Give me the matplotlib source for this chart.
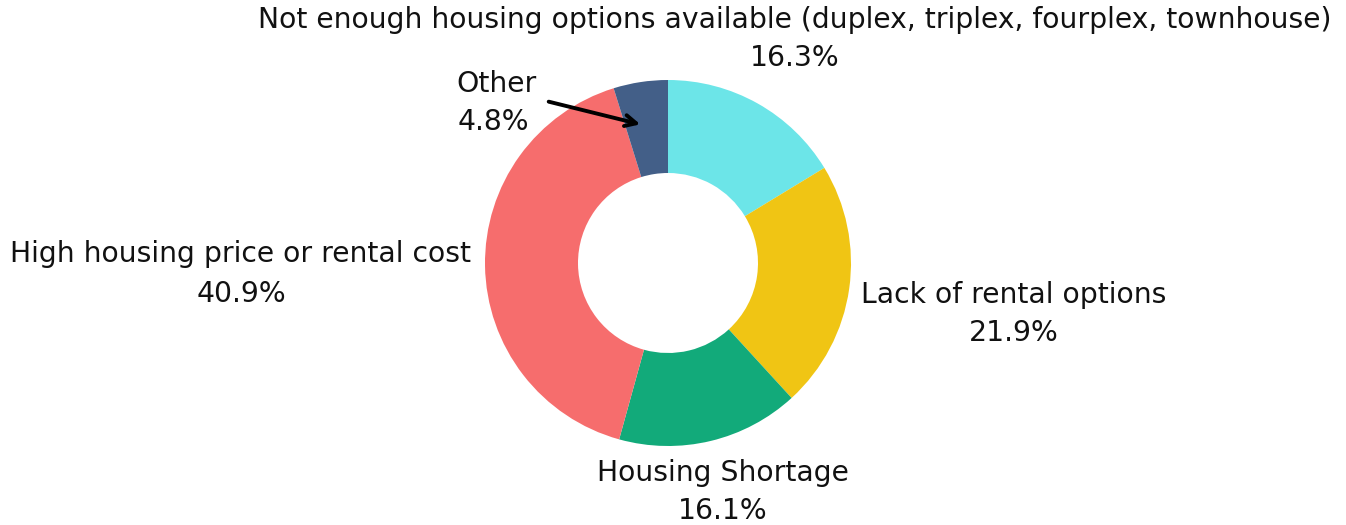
import matplotlib
matplotlib.use("Agg")
import matplotlib.pyplot as plt

categories = ["Not enough housing options available (duplex, triplex, fourplex, townhouse)",
              "Lack of rental options", "Housing Shortage",
              "High housing price or rental cost", "Other"]
values = [16.3, 21.9, 16.1, 40.9, 4.8]
colors = ["#6CE5E8", "#F0C514", "#12AA7A", "#F66D6D", "#435F88"]

W, H = 1346, 525
fig = plt.figure(figsize=(W / 100, H / 100), dpi=100)
ax = fig.add_axes([0, 0, 1, 1])

cx, cy = 668, H - 263
R = 183
ax.pie(values, colors=colors, startangle=90, counterclock=False,
       center=(cx, cy), radius=R, wedgeprops=dict(width=93, linewidth=0),
       frame=True)
ax.set_xlim(0, W)
ax.set_ylim(0, H)
ax.set_aspect("equal")
ax.axis("off")

fam = "DejaVu Sans"
fs = 20.3
def lab(x, y, text, **kw):
    ax.text(x, H - y, text, ha="center", va="center", fontsize=fs, family=fam,
            color="#111111", **kw)

lab(795, 20, categories[0])
lab(795, 58, f"{values[0]}%")
lab(497, 84, categories[4])
lab(493, 122, f"{values[4]}%")
lab(241, 254, categories[3])
lab(241, 294, f"{values[3]}%")
lab(1014, 295, categories[1])
lab(1014, 333, f"{values[1]}%")
lab(723, 473, categories[2])
lab(723, 511, f"{values[2]}%")

ax.annotate("", xy=(643, H - 125), xytext=(546, H - 101),
            arrowprops=dict(arrowstyle="->", color="black", lw=2.8, mutation_scale=20))

fig.savefig("out.png", dpi=100, facecolor="white")
